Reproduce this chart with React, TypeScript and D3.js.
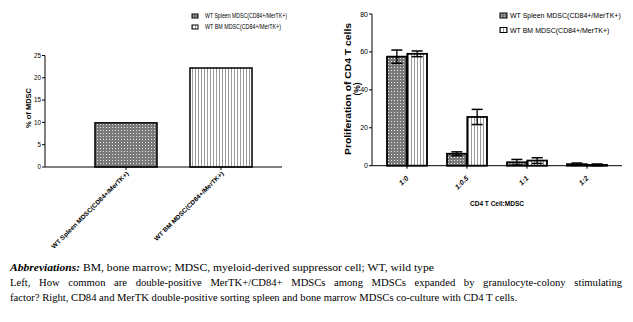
import React, { useLayoutEffect, useRef, useState } from 'react';
import * as d3 from 'd3';

const leftCategories = ['WT Spleen MDSC(CD84+/MerTK+)', 'WT BM MDSC(CD84+/MerTK+)'];
const leftValues = [9.9, 22.2];
const leftTicks = [0, 5, 10, 15, 20, 25];

const rightCategories = ['1:0', '1:0.5', '1:1', '1:2'];
const seriesNames = ['WT Spleen MDSC(CD84+/MerTK+)', 'WT BM MDSC(CD84+/MerTK+)'];
const spleenMeans = [57.5, 6.3, 1.8, 0.8];
const spleenErrors = [3.5, 1.0, 1.5, 0.6];
const bmMeans = [59.0, 25.7, 2.7, 0.4];
const bmErrors = [1.5, 4.0, 1.5, 0.5];
const rightTicks = [0, 20, 40, 60, 80];

const captionLine1Bold = 'Abbreviations:';
const captionLine1 = 'BM, bone marrow; MDSC, myeloid-derived suppressor cell; WT, wild type';
const captionLine2 = 'Left, How common are double-positive MerTK+/CD84+ MDSCs among MDSCs expanded by granulocyte-colony stimulating';
const captionLine3 = 'factor? Right, CD84 and MerTK double-positive sorting spleen and bone marrow MDSCs co-culture with CD4 T cells.';

const SANS = '"Liberation Sans", Arial, sans-serif';
const SERIF = '"Liberation Serif", "Times New Roman", serif';

export default function App() {
  const line1Ref = useRef<SVGTextElement>(null);
  const line2Ref = useRef<SVGTextElement>(null);
  const line3Ref = useRef<SVGTextElement>(null);
  const [cap, setCap] = useState({ k1: 1.1, k: 1.1, ws: 0 });

  useLayoutEffect(() => {
    const l1 = line1Ref.current;
    const l2 = line2Ref.current;
    const l3 = line3Ref.current;
    if (!l1 || !l2 || !l3) return;
    const n1 = l1.getComputedTextLength();
    const n2 = l2.getComputedTextLength();
    const n3 = l3.getComputedTextLength();
    const k1 = 424 / n1;
    const k = 507 / n3;
    const gaps = captionLine2.split(' ').length - 1;
    const ws = Math.max(0, (612 / k - n2) / gaps);
    setCap({ k1, k, ws });
  }, []);

  const yL = d3.scaleLinear().domain([0, 25]).range([167, 55.5]);
  const xL = d3.scaleBand<string>().domain(leftCategories).range([45, 282])
    .paddingInner(0.347).paddingOuter(0.421).align(0.625);

  const yR = d3.scaleLinear().domain([0, 80]).range([165.7, 14]);
  const xR = d3.scaleBand<string>().domain(rightCategories).range([372, 622])
    .paddingInner(1 / 3).paddingOuter(0.25);
  const x1 = d3.scaleBand<string>().domain(seriesNames).range([0, xR.bandwidth()]).paddingInner(0.03);

  const rightData = rightCategories.map((c, i) => ({
    cat: c,
    series: [
      { name: seriesNames[0], mean: spleenMeans[i], err: spleenErrors[i], fill: 'url(#sp)' },
      { name: seriesNames[1], mean: bmMeans[i], err: bmErrors[i], fill: 'url(#bm)' },
    ],
  }));

  const leftFills = ['url(#sp)', 'url(#bm)'];

  return (
    <svg width={633} height={322} style={{ position: 'absolute', left: 0, top: 0, background: '#fff' }}>
      <defs>
        <pattern id="sp" width={3} height={3} patternUnits="userSpaceOnUse">
          <rect width={3} height={3} fill="#7a7a7a" />
          <rect x={1} y={1} width={1} height={1} fill="#e8e8e8" />
        </pattern>
        <pattern id="bm" width={3} height={3} patternUnits="userSpaceOnUse">
          <rect width={3} height={3} fill="#ffffff" />
          <rect x={0} y={0} width={1} height={3} fill="#9a9a9a" />
        </pattern>
      </defs>

      {/* ---------- LEFT CHART ---------- */}
      {seriesNames.map((s, i) => (
        <g key={s} transform={`translate(192, ${16 + i * 11})`}>
          <rect x={0} y={-2} width={6} height={4} fill={leftFills[i]} stroke="#000" strokeWidth={1} />
          <text x={13} y={2.2} fontFamily={SANS} fontSize={6.4} fill="#000" textLength={i === 0 ? 82 : 76} lengthAdjust="spacingAndGlyphs">{s}</text>
        </g>
      ))}
      {leftCategories.map((c, i) => (
        <rect key={c} x={xL(c)} y={yL(leftValues[i])} width={xL.bandwidth()} height={yL(0) - yL(leftValues[i])}
          fill={leftFills[i]} stroke="#000" strokeWidth={1.5} />
      ))}
      <line x1={45} x2={45} y1={yL(25)} y2={yL(0)} stroke="#000" strokeWidth={1} />
      {leftTicks.map(t => (
        <g key={t}>
          <line x1={42} x2={45} y1={yL(t)} y2={yL(t)} stroke="#000" strokeWidth={1} />
          <text x={41} y={yL(t) + 2.2} textAnchor="end" fontFamily={SANS} fontSize={6.3} fill="#000">{t}</text>
        </g>
      ))}
      <text transform={`translate(31, 108) rotate(-90)`} textAnchor="middle" fontFamily={SANS} fontSize={7.5} fontWeight="bold" fill="#000"
        textLength={40} lengthAdjust="spacingAndGlyphs">% of MDSC</text>
      <line x1={45} x2={282} y1={yL(0)} y2={yL(0)} stroke="#000" strokeWidth={1} />
      {leftCategories.map((c, i) => {
        const cx = (xL(c) as number) + xL.bandwidth() / 2;
        return (
          <g key={c}>
            <line x1={cx} x2={cx} y1={yL(0)} y2={yL(0) + 3} stroke="#000" strokeWidth={1} />
            <text transform={`translate(${cx + 3}, ${yL(0) + 7}) rotate(-45)`} textAnchor="end" fontFamily={SANS} fontSize={6.3} fontWeight="bold" fill="#000"
              textLength={i === 0 ? 106 : 95} lengthAdjust="spacingAndGlyphs">{c}</text>
          </g>
        );
      })}

      {/* ---------- RIGHT CHART ---------- */}
      {seriesNames.map((s, i) => (
        <g key={s} transform={`translate(500, ${15.5 + i * 14.5})`}>
          <rect x={0} y={-2.5} width={7} height={5} fill={leftFills[i]} stroke="#000" strokeWidth={1} />
          <text x={10} y={2.8} fontFamily={SANS} fontSize={7} fill="#000">{s}</text>
        </g>
      ))}
      {rightData.map(d => (
        <g key={d.cat} transform={`translate(${xR(d.cat)}, 0)`}>
          {d.series.map(s => {
            const bx = x1(s.name) as number;
            const bw = x1.bandwidth();
            const cx = bx + bw / 2;
            const capW = 5.5;
            const top = yR(s.mean + s.err);
            const bot = yR(Math.max(0, s.mean - s.err));
            return (
              <g key={s.name}>
                <rect x={bx} y={yR(s.mean)} width={bw} height={yR(0) - yR(s.mean)} fill={s.fill} stroke="#000" strokeWidth={1.8} />
                <line x1={cx} x2={cx} y1={top} y2={bot} stroke="#000" strokeWidth={1.3} />
                <line x1={cx - capW} x2={cx + capW} y1={top} y2={top} stroke="#000" strokeWidth={1.5} />
                <line x1={cx - capW} x2={cx + capW} y1={bot} y2={bot} stroke="#000" strokeWidth={1.5} />
              </g>
            );
          })}
        </g>
      ))}
      <line x1={372} x2={372} y1={yR(80)} y2={yR(0)} stroke="#000" strokeWidth={1} />
      {rightTicks.map(t => (
        <g key={t}>
          <line x1={369} x2={372} y1={yR(t)} y2={yR(t)} stroke="#000" strokeWidth={1} />
          <text x={368} y={yR(t) + 2.5} textAnchor="end" fontFamily={SANS} fontSize={7} fill="#000">{t}</text>
        </g>
      ))}
      <text transform={`translate(351, 89) rotate(-90)`} textAnchor="middle" fontFamily={SANS} fontSize={8.5} fontWeight="bold" fill="#000"
        textLength={132} lengthAdjust="spacingAndGlyphs">Proliferation of CD4 T cells</text>
      <text transform={`translate(360, 89) rotate(-90)`} textAnchor="middle" fontFamily={SANS} fontSize={8.5} fontWeight="bold" fill="#000">(%)</text>
      <line x1={372} x2={622} y1={yR(0)} y2={yR(0)} stroke="#000" strokeWidth={1} />
      {rightCategories.map(c => {
        const cx = (xR(c) as number) + xR.bandwidth() / 2;
        return (
          <g key={c}>
            <line x1={cx} x2={cx} y1={yR(0)} y2={yR(0) + 3} stroke="#000" strokeWidth={1} />
            <text transform={`translate(${cx + 2}, ${yR(0) + 13}) rotate(-45)`} textAnchor="end" fontFamily={SANS} fontSize={7} fontWeight="bold" fontStyle="italic" fill="#000">{c}</text>
          </g>
        );
      })}
      <text x={497} y={206} textAnchor="middle" fontFamily={SANS} fontSize={7.5} fontWeight="bold" fill="#000" textLength={54} lengthAdjust="spacingAndGlyphs">CD4 T Cell:MDSC</text>

      {/* ---------- CAPTION ---------- */}
      <g transform={`translate(10, 0) scale(${cap.k1}, 1)`}>
        <text ref={line1Ref} x={0} y={271} fontFamily={SERIF} fontSize={10} fill="#000">
          <tspan fontWeight="bold" fontStyle="italic">{captionLine1Bold}</tspan>
          <tspan>{' ' + captionLine1}</tspan>
        </text>
      </g>
      <g transform={`translate(10, 0) scale(${cap.k}, 1)`}>
        <text ref={line2Ref} x={0} y={286} fontFamily={SERIF} fontSize={10} fill="#000" style={{ wordSpacing: `${cap.ws}px` }}>{captionLine2}</text>
        <text ref={line3Ref} x={0} y={301} fontFamily={SERIF} fontSize={10} fill="#000">{captionLine3}</text>
      </g>
    </svg>
  );
}
